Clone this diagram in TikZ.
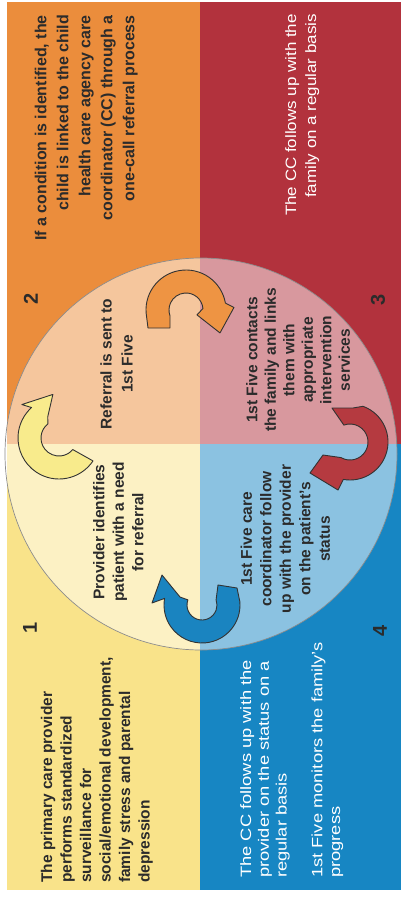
\documentclass[tikz,border=0pt]{standalone}
\usepackage{fontspec}
\setmainfont{Liberation Sans}
\usepackage{graphicx}
\definecolor{qorange}{HTML}{EB8D3C}
\definecolor{qred}{HTML}{B2323D}
\definecolor{qyellow}{HTML}{F9E38A}
\definecolor{qblue}{HTML}{1786C3}
\definecolor{ayellow}{HTML}{F8EB8C}
\definecolor{aorange}{HTML}{EE9443}
\definecolor{ared}{HTML}{B53A40}
\definecolor{ablue}{HTML}{1A84C0}
\definecolor{darktxt}{HTML}{2B2B2B}
\tikzset{
  arr/.style={draw=black!80, line width=0.9pt, line join=round},
  rtxt/.style={rotate=90, inner sep=0pt},
  numlbl/.style={rotate=90, inner sep=0pt, text=darktxt, font=\fontsize{20pt}{22pt}\selectfont\bfseries},
}
\begin{document}
\begin{tikzpicture}[x=1pt,y=1pt]
\useasboundingbox (0,0) rectangle (401,-901);
% quadrants
\fill[qorange] (7,-2) rectangle (200,-444);
\fill[qred] (200,-2) rectangle (401,-444);
\fill[qyellow] (7,-444) rectangle (200,-890);
\fill[qblue] (200,-444) rectangle (401,-890);
% circle overlay
\fill[white, opacity=0.5] (201,-454) circle[radius=196];
\draw[black!45, line width=0.7pt] (201,-454) circle[radius=196];
% yellow arrow
\begin{scope}[shift={(59,-438)}]
\draw[arr, fill=ayellow] (-34:41) arc[start angle=-34, end angle=-228, radius=41] -- (138:50) -- (98:44) -- (118:24) -- (-232:18) arc[start angle=-232, end angle=-40, radius=18] -- cycle;
\end{scope}
% orange arrow
\begin{scope}[shift={(186,-310)}]
\draw[arr, fill=aorange] (-16,-18) -- (-38,-18) -- (190:40) arc[start angle=190, end angle=10, radius=40] -- (3:48) -- (-34:41) -- (-24:12) -- (5:17) arc[start angle=5, end angle=200, radius=17] -- cycle;
\end{scope}
% red arrow
\begin{scope}[shift={(350,-442)}]
\draw[arr, fill=ared] (-18,34) -- (3,34) -- (70:38) arc[start angle=70, end angle=-100, radius=38] -- (-12,-48) -- (-40,-31) -- (-27,-13) -- (-120:18) arc[start angle=-120, end angle=110, radius=18] -- cycle;
\end{scope}
% blue arrow
\begin{scope}[shift={(202,-605)}]
\draw[arr, fill=ablue] (16,20) -- (35,17) -- (5:38) arc[start angle=5, end angle=-190, radius=38] -- (-50,2) -- (-40,30) -- (-22,8) -- (160:15) arc[start angle=-200, end angle=20, radius=15] -- cycle;
\end{scope}
% quadrant texts
\node[rtxt, anchor=east, text=darktxt] (q2) at (86,-15) {\fontsize{16pt}{22pt}\selectfont\bfseries\begin{tabular}{@{}r@{}}If a condition is identified, the\\ child is linked to the child\\ health care agency care\\ coordinator (CC) through a\\ one-call referral process\end{tabular}};
\node[rtxt, anchor=east, text=white] (q3) at (302,-14) {\scalebox{1.13}[1]{\fontsize{15pt}{20pt}\selectfont\begin{tabular}{@{}r@{}}The CC follows up with the\\ family on a regular basis\end{tabular}}};
\node[rtxt, anchor=west, text=darktxt] (q1) at (97,-883) {\fontsize{15.5pt}{19.5pt}\selectfont\bfseries\begin{tabular}{@{}l@{}}The primary care provider\\ performs standardized\\ surveillance for\\ social/emotional development,\\ family stress and parental\\ depression\end{tabular}};
\node[rtxt, anchor=west, text=white] (q4) at (292,-878) {\scalebox{1.22}[1]{\fontsize{15pt}{17.8pt}\selectfont\begin{tabular}{@{}l@{}}The CC follows up with the\\ provider on the status on a\\ regular basis\\ \\ 1st Five monitors the family's\\ progress\end{tabular}}};
% inner texts
\node[rtxt, text=darktxt] (c1) at (120,-532) {\fontsize{15.5pt}{19.5pt}\selectfont\bfseries\begin{tabular}{@{}c@{}}Provider identifies\\ patient with a need\\ for referral\end{tabular}};
\node[rtxt, text=darktxt] (c2) at (118,-364) {\fontsize{15.5pt}{21pt}\selectfont\bfseries\begin{tabular}{@{}c@{}}Referral is sent to\\ 1st Five\end{tabular}};
\node[rtxt, text=darktxt] (c3) at (300,-360) {\fontsize{15.5pt}{18.5pt}\selectfont\bfseries\begin{tabular}{@{}c@{}}1st Five contacts\\ the family and links\\ them with\\ appropriate\\ intervention\\ services\end{tabular}};
\node[rtxt, text=darktxt] (c4) at (287,-539) {\fontsize{15.5pt}{19.5pt}\selectfont\bfseries\begin{tabular}{@{}c@{}}1st Five care\\ coordinator follow\\ up with the provider\\ on the patient's\\ status\end{tabular}};
% numbers
\node[numlbl] (n1) at (30,-628) {1};
\node[numlbl] (n2) at (31,-299) {2};
\node[numlbl] (n3) at (378,-300) {3};
\node[numlbl] (n4) at (380,-631) {4};
\end{tikzpicture}
\end{document}
